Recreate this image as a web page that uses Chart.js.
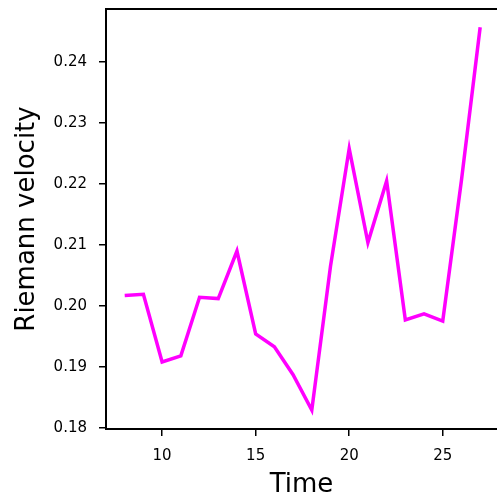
<!DOCTYPE html>
<html>
<head>
<meta charset="utf-8">
<script src="https://cdn.jsdelivr.net/npm/chart.js@4.4.0/dist/chart.umd.min.js"></script>
<style>
  html, body { margin: 0; padding: 0; background: #fff; }
  #wrap { width: 497px; height: 500px; }
</style>
</head>
<body>
<div id="wrap"><canvas id="myChart"></canvas></div>
<script>
  // time steps and velocity
  const times = [8, 9, 10, 11, 12, 13, 14, 15, 16, 17, 18, 19, 20, 21, 22, 23, 24, 25, 26, 27];
  const velocity = [0.2017, 0.2019, 0.1908, 0.1918, 0.2014, 0.2012, 0.2090, 0.1954, 0.1933, 0.1887,
    0.1829, 0.2065, 0.2258, 0.2104, 0.2205, 0.1977, 0.1987, 0.1975, 0.2206, 0.2457];
  const xTicks = [10, 15, 20, 25];
  const yTicks = [0.18, 0.19, 0.20, 0.21, 0.22, 0.23, 0.24];

  const points = times.map((t, i) => ({x: t, y: velocity[i]}));

  // top spine, matplotlib style
  const topLine = {
    id: 'topLine',
    afterDraw(chart) {
      const a = chart.chartArea;
      const ctx = chart.ctx;
      ctx.save();
      ctx.strokeStyle = '#000';
      ctx.lineWidth = 2;
      ctx.beginPath();
      ctx.moveTo(a.left - 1, a.top);
      ctx.lineTo(a.right + 2, a.top);
      ctx.stroke();
      ctx.restore();
    }
  };

  const config = {
    type: 'line',
    data: {
      datasets: [{
        data: points,
        borderColor: '#ff00ff',
        borderWidth: 3.5,
        pointRadius: 0,
        tension: 0,
        fill: false
      }]
    },
    options: {
      responsive: true,
      maintainAspectRatio: false,
      animation: false,
      layout: { padding: { top: 9, right: 0, left: 0, bottom: 0 } },
      plugins: { legend: { display: false }, tooltip: { enabled: false } },
      scales: {
        x: {
          type: 'linear',
          min: 7.0,
          max: 27.9,
          afterBuildTicks: (s) => { s.ticks = xTicks.map(v => ({value: v})); },
          afterFit: (s) => { s.height = 71; s.paddingLeft = 0; s.paddingRight = 0; },
          ticks: { color: '#000', font: { family: 'DejaVu Sans', size: 15 }, padding: 11, maxRotation: 0 },
          grid: { drawOnChartArea: false, color: '#000', lineWidth: 1.5, tickLength: 7 },
          border: { color: '#000', width: 2 },
          title: { display: true, text: 'Time', color: '#000', font: { family: 'DejaVu Sans', size: 26 }, padding: { top: 0, bottom: -1 } }
        },
        y: {
          min: 0.1798,
          max: 0.2487,
          afterBuildTicks: (s) => { s.ticks = yTicks.map(v => ({value: v})); },
          afterFit: (s) => { s.width = 106; s.paddingTop = 0; s.paddingBottom = 0; },
          ticks: { color: '#000', font: { family: 'DejaVu Sans', size: 15 }, padding: 12, callback: (v) => v.toFixed(2) },
          grid: { drawOnChartArea: false, color: '#000', lineWidth: 1.5, tickLength: 7 },
          border: { color: '#000', width: 2 },
          title: { display: true, text: 'Riemann velocity', color: '#000', font: { family: 'DejaVu Sans', size: 26 }, padding: { top: 12, bottom: 0 } }
        }
      }
    },
    plugins: [topLine]
  };

  const myChart = new Chart(document.getElementById('myChart'), config);
</script>
</body>
</html>
